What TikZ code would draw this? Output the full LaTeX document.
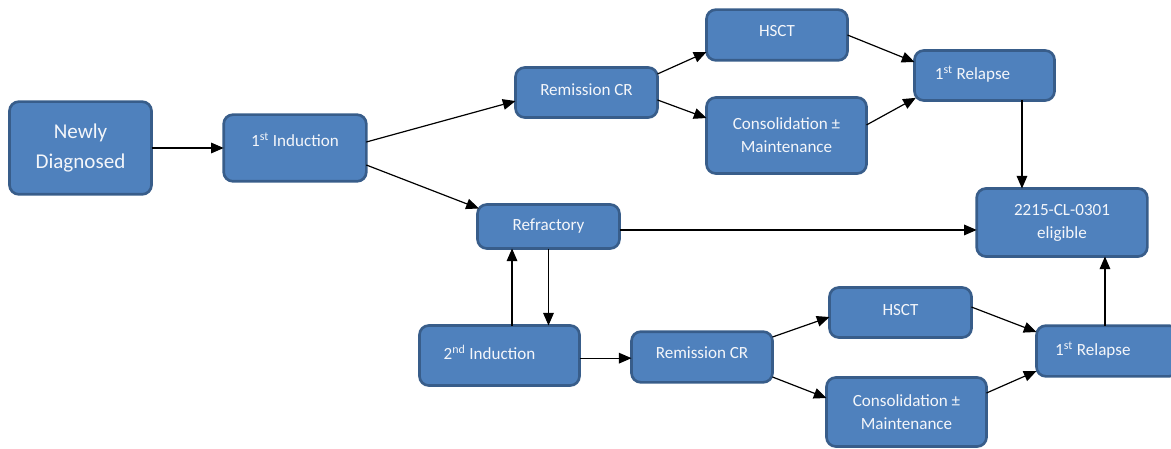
\documentclass[tikz,border=0pt]{standalone}
\usepackage{fontspec}
\setmainfont{Carlito}
\usetikzlibrary{arrows.meta}
\definecolor{boxfill}{HTML}{4F81BD}
\definecolor{boxline}{HTML}{385D8A}
\definecolor{boxtext}{HTML}{F4F6FA}
\begin{document}
\begin{tikzpicture}[x=0.75pt,y=-0.75pt,
  box/.style={draw=boxline, fill=boxfill, line width=2pt, rounded corners=7pt,
    text=boxtext, font=\fontsize{12.8}{17.25}\selectfont, align=center,
    inner sep=2pt, outer sep=0pt},
  bigbox/.style={box, font=\fontsize{15.8}{23}\selectfont},
  arr/.style={-{Triangle[length=9.5pt,width=8pt]}, line width=0.9pt, draw=black}]
\useasboundingbox (0,0) rectangle (1171,449);
\clip (0,0) rectangle (1171,449);

\node[bigbox, minimum width=106.5pt, minimum height=69.5pt] (nd) at (80.5,148) {Newly\\Diagnosed};
\node[box, minimum width=107pt, minimum height=50pt] (ind1) at (295,148) {\raisebox{12pt}{1\textsuperscript{st} Induction}};
\node[box, minimum width=106.5pt, minimum height=37.5pt] (rem1) at (586.5,92.5) {\raisebox{3.75pt}{Remission CR}};
\node[box, minimum width=105.75pt, minimum height=38pt] (hsct1) at (777,35) {\raisebox{6pt}{HSCT}};
\node[box, minimum width=120pt, minimum height=57pt] (cons1) at (786.5,135.5) {Consolidation ±\\Maintenance};
\node[box, minimum width=105pt, minimum height=37.5pt] (rel1) at (984.5,75.5) {\raisebox{3.75pt}{1\textsuperscript{st} Relapse\kern18pt}};
\node[box, minimum width=128pt, minimum height=51pt] (elig) at (1062,222.5) {2215-CL-0301\\eligible};
\node[box, minimum width=106.5pt, minimum height=33pt] (refr) at (548.5,226.5) {Refractory};
\node[box, minimum width=120pt, minimum height=45pt] (ind2) at (499.5,355.5) {\raisebox{5.25pt}{2\textsuperscript{nd} Induction\kern15pt}};
\node[box, minimum width=105.75pt, minimum height=38pt] (rem2) at (702,357) {\raisebox{6pt}{Remission CR}};
\node[box, minimum width=106.5pt, minimum height=37.5pt] (hsct2) at (900.5,312.5) {\raisebox{3.75pt}{HSCT}};
\node[box, minimum width=120pt, minimum height=51.75pt] (cons2) at (906.5,412) {Consolidation ±\\Maintenance};
\node[box, minimum width=106.5pt, minimum height=38pt] (rel2) at (1107.5,351) {\raisebox{3pt}{1\textsuperscript{st} Relapse\kern22pt}};

\draw[arr] (nd.east) -- (ind1.west);
\draw[arr] ([yshift=4.5pt]ind1.east) -- ([yshift=-6.4pt]rem1.west);
\draw[arr] ([yshift=-12.75pt]ind1.east) -- ([xshift=1pt,yshift=-3pt]refr.north west);
\draw[arr] ([yshift=13.9pt]rem1.east) -- ([yshift=-12.75pt]hsct1.west);
\draw[arr] ([yshift=-5.6pt]rem1.east) -- ([yshift=13.1pt]cons1.west);
\draw[arr] (hsct1.east) -- ([yshift=10.1pt]rel1.west);
\draw[arr] ([yshift=7.9pt]cons1.east) -- ([xshift=1pt,yshift=2pt]rel1.south west);
\draw[arr] ([xshift=28.1pt]rel1.south) -- ([xshift=28.1pt]rel1.south |- elig.north);
\draw[arr] ([yshift=-2.6pt]refr.east) -- ([yshift=-2.6pt]refr.east -| elig.west);
\draw[arr] ([xshift=9.4pt]ind2.north) -- ([xshift=9.4pt]ind2.north |- refr.south);
\draw[arr] (refr.south) -- (refr.south |- ind2.north);
\draw[arr] ([yshift=-2pt]ind2.east) -- ([yshift=-2pt]ind2.east -| rem2.west);
\draw[arr] ([yshift=15pt]rem2.east) -- ([yshift=-3.4pt]hsct2.west);
\draw[arr] ([yshift=-15pt]rem2.east) -- ([yshift=10.5pt]cons2.west);
\draw[arr] ([yshift=4.1pt]hsct2.east) -- ([yshift=14.25pt]rel2.west);
\draw[arr] ([yshift=14.25pt]cons2.east) -- ([yshift=-15pt]rel2.west);
\draw[arr] ([xshift=-1.9pt]rel2.north) -- ([xshift=-1.9pt]rel2.north |- elig.south);
\end{tikzpicture}
\end{document}
